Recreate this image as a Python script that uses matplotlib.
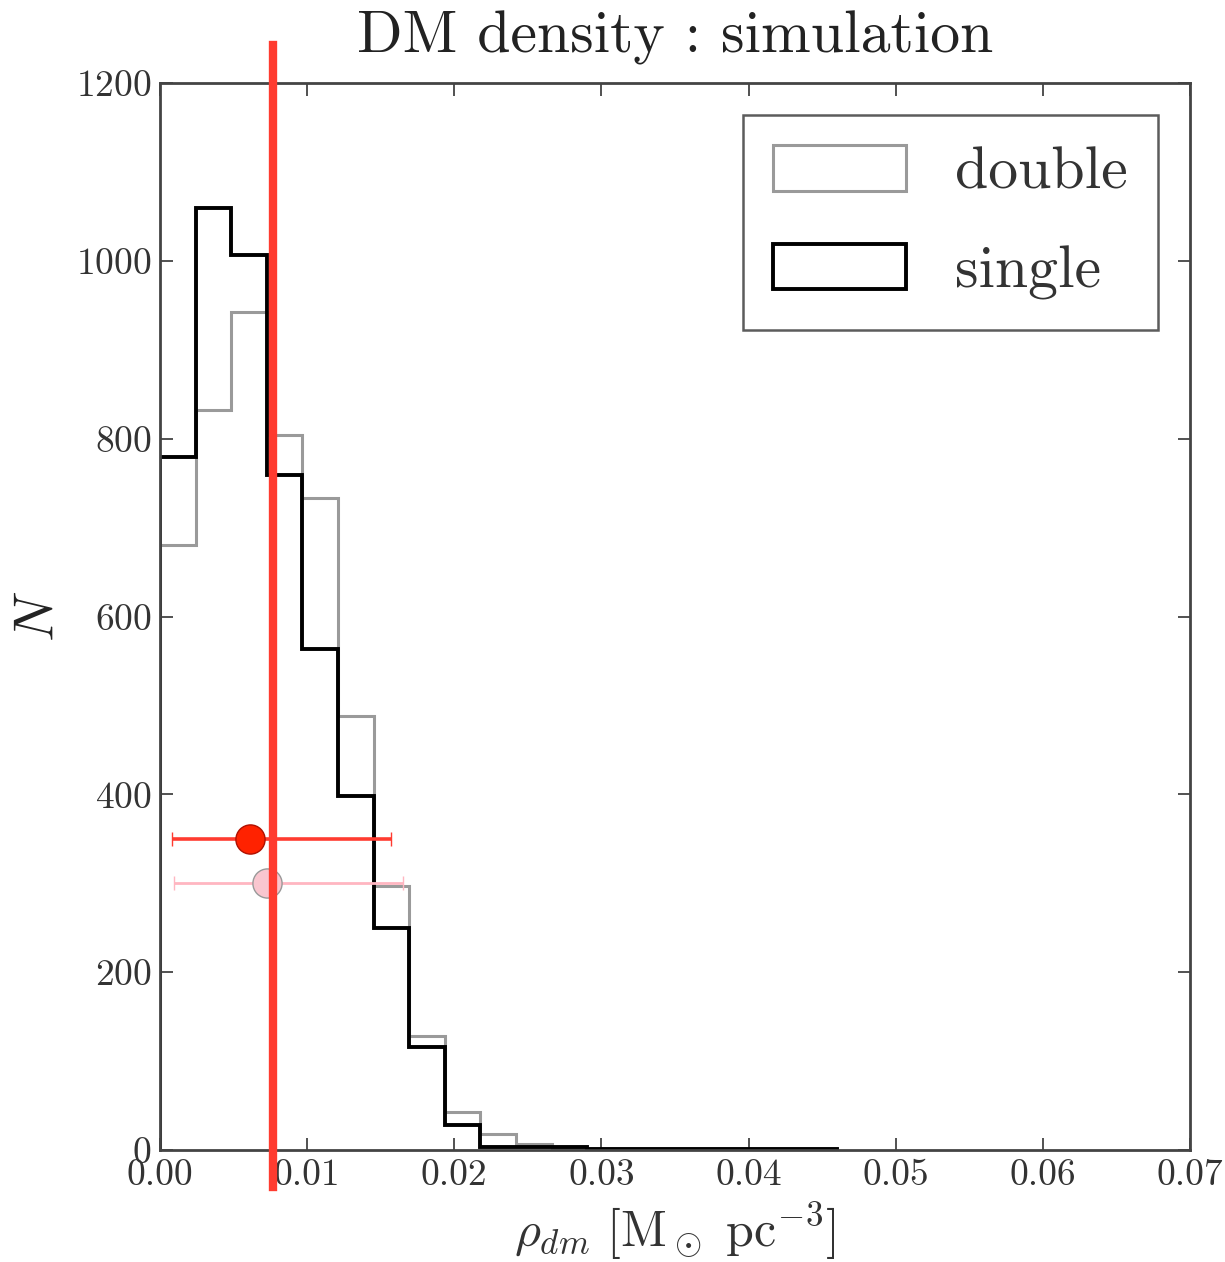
import numpy as np
import matplotlib.pyplot as plt

plt.rcParams['font.family'] = 'serif'
plt.rcParams['font.serif'] = ['cmr10']
plt.rcParams['mathtext.fontset'] = 'cm'
plt.rcParams['axes.formatter.use_mathtext'] = True

# histogram bins (width)
bin_width = 0.00242
n_bins = 19
edges = np.arange(n_bins + 1) * bin_width
centers = edges[:-1] + bin_width / 2

counts_double = [680, 832, 943, 804, 733, 488, 297, 128, 43, 18, 7, 2, 1, 1, 1, 1, 1, 1, 1]
counts_single = [779, 1059, 1007, 759, 564, 398, 250, 116, 28, 3, 3, 3, 1, 1, 1, 1, 1, 1, 1]

# measurements with horizontal error bars
meas_x = [0.0061, 0.00725]
meas_y = [350, 300]
meas_lo = [0.0053, 0.00628]
meas_hi = [0.0096, 0.00925]

vline_x = 0.0077

fig = plt.figure(figsize=(12.25, 12.62), dpi=100)
ax = fig.add_axes([0.1306, 0.0887, 0.8408, 0.8455])

ax.hist(centers, bins=edges, weights=counts_double, histtype='step',
        color='#9a9a9a', lw=2.2, label='double')
ax.hist(centers, bins=edges, weights=counts_single, histtype='step',
        color='black', lw=2.8, label='single')

ax.errorbar(meas_x[0], meas_y[0], xerr=[[meas_lo[0]], [meas_hi[0]]], fmt='o',
            ms=21, mfc='#ff2200', mec='#b01000', mew=1.0,
            ecolor='#ff3b30', elinewidth=2.6, capsize=5, capthick=1.5, zorder=5)
ax.errorbar(meas_x[1], meas_y[1], xerr=[[meas_lo[1]], [meas_hi[1]]], fmt='o',
            ms=21, mfc='#f9c6cf', mec='#999999', mew=1.0,
            ecolor='#ffb6c1', elinewidth=2.0, capsize=5, capthick=1.2, zorder=4)

ax.axvline(vline_x, ymin=-0.035, ymax=1.036, color='#ff3b2f', lw=6, clip_on=False, zorder=6)

ax.set_xlim(0, 0.07)
ax.set_ylim(0, 1200)
ax.set_xticks(np.arange(0, 0.071, 0.01))
ax.set_xticklabels(['%.2f' % v for v in np.arange(0, 0.071, 0.01)])
ax.set_yticks(np.arange(0, 1201, 200))
ax.tick_params(direction='in', length=9, width=1.2, labelsize=27,
               top=True, right=True, pad=6, colors='#333333')
for s in ax.spines.values():
    s.set_linewidth(2)
    s.set_color('#444444')

ax.set_xlabel(r'$\rho_{dm}\ [\mathrm{M}_\odot\ \mathrm{pc}^{-3}]$', fontsize=36, labelpad=6,
              color='#333333')
ax.set_ylabel(r'$N$', fontsize=40, labelpad=8, color='#222222')
ax.set_title('DM density : simulation', fontsize=43, pad=22, color='#222222')

leg = ax.legend(loc='upper right', fontsize=43, handlelength=2.23, handleheight=0.8,
                handletextpad=0.82, labelspacing=0.72, borderpad=0.5,
                fancybox=False, borderaxespad=0.54)
leg.get_frame().set_edgecolor('#333333')
leg.get_frame().set_linewidth(1.8)
for t in leg.get_texts():
    t.set_color('#333333')

fig.savefig('out.png', dpi=100)
